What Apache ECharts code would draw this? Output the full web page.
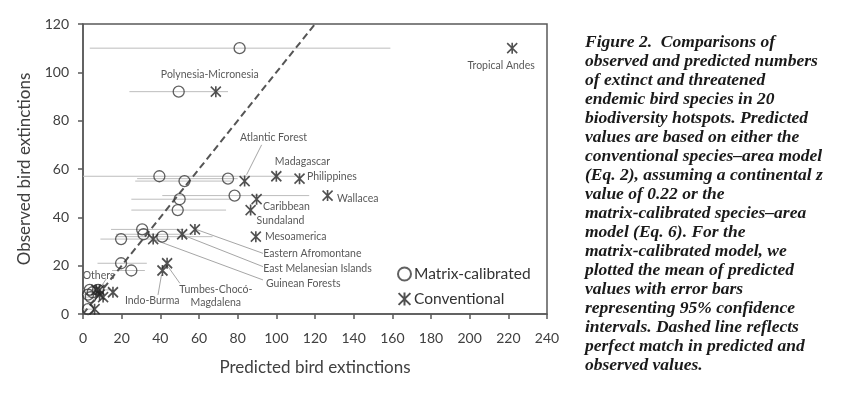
<!DOCTYPE html>
<html>
<head>
<meta charset="utf-8">
<script src="https://cdn.jsdelivr.net/npm/echarts@6/dist/echarts.min.js"></script>
<style>html,body{margin:0;padding:0;background:#fff;}#c{width:841px;height:395px;}</style>
</head>
<body>
<div id="c"></div>
<script>
// ---- data ----
const hotspots = ['Tropical Andes','Polynesia-Micronesia','Atlantic Forest','Madagascar','Philippines','Wallacea','Caribbean','Sundaland','Mesoamerica','Eastern Afromontane','East Melanesian Islands','Guinean Forests','Tumbes-Chocó-Magdalena','Indo-Burma','Other A','Other B','Other C','Other D','Other E','Other F'];
const observed     = [110, 92, 55, 57, 56, 49, 47.5, 43, 32, 35, 33, 31, 21, 18, 10, 10, 9, 8, 7, 2];
const matrixMean   = [81, 49.5, 52.5, 39.5, 75, 78.4, 50, 49, 41, 30.6, 31.3, 19.7, 19.7, 25, 3.5, 7.8, 5, 2.6, 4, 2.6];
const matrixLow    = [3.5, 24, 27, 0, 28, 41, 25, 25, 17, 14.5, 17, 9, 7.5, 15, 0, 2, 1, 0, 1, 0];
const matrixHigh   = [159, 75, 77, 110, 80, 117, 76, 74, 67, 52, 57, 45, 33, 32, 8, 14, 10, 6, 9, 5];
const conventional = [222, 68.7, 83.6, 100, 112, 126.5, 89.8, 86.7, 89.4, 57.9, 51.3, 36.3, 43.5, 41.1, 6.9, 8.5, 15.5, 8.6, 10.4, 6];
const perfectMatch = [0, 120];
const xTicks = [0, 240, 20];
const yTicks = [0, 120, 20];

// annotation labels (data coordinates) and leader lines
const labelTexts  = ['Polynesia-Micronesia','Tropical Andes','Atlantic Forest','Madagascar','Philippines','Wallacea','Caribbean','Sundaland','Mesoamerica','Eastern Afromontane','East Melanesian Islands','Guinean Forests','Tumbes-Chocó-\nMagdalena','Indo-Burma','Others'];
const labelX      = [65.6, 216.3, 98.5, 113.5, 115.8, 131.4, 93.1, 89.8, 94.1, 93.2, 93.2, 94.6, 68.7, 35.8, 8.1];
const labelY      = [99.0, 102.7, 72.9, 63.1, 56.8, 47.6, 44.3, 38.5, 32.0, 25.1, 18.6, 12.4, 7.2, 5.5, 15.9];
const labelAlign  = ['center','center','center','center','left','left','left','left','left','left','left','left','center','center','center'];
const leaders = [
  [92.4, 70.0, 84.6, 57.6],
  [57.8, 35.2, 93.1, 25.1],
  [51.6, 32.7, 93.1, 19.6],
  [37.0, 30.7, 93.1, 14.1],
  [44.0, 19.6, 50.1, 12.7],
  [40.6, 16.2, 38.8, 7.9],
  [12.0, 14.5, 9.5, 11.5]
];
const captionLines = [
  'Figure 2.  Comparisons of',
  'observed and predicted numbers',
  'of extinct and threatened',
  'endemic bird species in 20',
  'biodiversity hotspots. Predicted',
  'values are based on either the',
  'conventional species–area model',
  '(Eq. 2), assuming a continental z',
  'value of 0.22 or the',
  'matrix-calibrated species–area',
  'model (Eq. 6). For the',
  'matrix-calibrated model, we',
  'plotted the mean of predicted',
  'values with error bars',
  'representing 95% confidence',
  'intervals. Dashed line reflects',
  'perfect match in predicted and',
  'observed values.'
];

// ---- build ----
const matrixPts = matrixMean.map((m, i) => [m, observed[i]]);
const convPts = conventional.map((c, i) => [c, observed[i]]);
const errData = matrixLow.map((l, i) => [l, matrixHigh[i], observed[i]]);
const labelData = labelX.map((x, i) => [x, labelY[i], i]);
const AX = '#595959';
const FONT = 'Lato, "Open Sans", sans-serif';
const starPath = 'path://M0,0L10,10M10,0L0,10M5,-0.5L5,10.5';

const chart = echarts.init(document.getElementById('c'), null, {renderer: 'canvas'});
chart.setOption({
  animation: false,
  backgroundColor: '#fff',
  grid: {left: 83, right: 294, top: 24, bottom: 81, show: true, borderColor: AX, borderWidth: 1.5, backgroundColor: 'transparent'},
  xAxis: {
    type: 'value', min: xTicks[0], max: xTicks[1], interval: xTicks[2],
    name: 'Predicted bird extinctions', nameLocation: 'middle', nameGap: 45,
    nameTextStyle: {fontFamily: FONT, fontSize: 17, color: '#404040'},
    axisLine: {lineStyle: {color: AX, width: 1.5}},
    axisTick: {show: true, inside: false, length: 5, lineStyle: {color: AX, width: 1.5}},
    axisLabel: {fontFamily: FONT, fontSize: 14, color: '#404040', margin: 17},
    splitLine: {show: false}
  },
  yAxis: {
    type: 'value', min: yTicks[0], max: yTicks[1], interval: yTicks[2],
    name: 'Observed bird extinctions', nameLocation: 'middle', nameGap: 50,
    nameTextStyle: {fontFamily: FONT, fontSize: 17, color: '#404040'},
    axisLine: {lineStyle: {color: AX, width: 1.5}},
    axisTick: {show: true, inside: false, length: 5, lineStyle: {color: AX, width: 1.5}},
    axisLabel: {fontFamily: FONT, fontSize: 14, color: '#404040', margin: 14},
    splitLine: {show: false}
  },
  legend: {
    data: ['Matrix-calibrated', 'Conventional'],
    orient: 'vertical', left: 392, top: 261, itemGap: 9, itemWidth: 13, itemHeight: 13,
    textStyle: {fontFamily: FONT, fontSize: 15.5, color: '#333', padding: [0, 0, 0, -2]}
  },
  graphic: [{
    type: 'text', left: 585, top: 33,
    style: {
      text: captionLines.join('\n'),
      font: 'italic bold 17.5px "Liberation Serif", serif',
      fill: '#1a1a1a', lineHeight: 19
    }
  }],
  series: [
    {
      type: 'custom', name: 'err', silent: true, z: 1, clip: true,
      data: errData,
      renderItem: function (params, api) {
        const a = api.coord([api.value(0), api.value(2)]);
        const b = api.coord([api.value(1), api.value(2)]);
        return {type: 'line', shape: {x1: a[0], y1: a[1], x2: b[0], y2: b[1]}, style: {stroke: '#bdbdbd', lineWidth: 1}};
      }
    },
    {
      type: 'line', name: 'perfect', silent: true, z: 2,
      data: [[perfectMatch[0], perfectMatch[0]], [perfectMatch[1], perfectMatch[1]]],
      symbol: 'none', lineStyle: {color: '#555', width: 2, type: [7, 4]}
    },
    {
      type: 'custom', name: 'leaders', silent: true, z: 2,
      data: leaders,
      renderItem: function (params, api) {
        const a = api.coord([api.value(0), api.value(1)]);
        const b = api.coord([api.value(2), api.value(3)]);
        return {type: 'line', shape: {x1: a[0], y1: a[1], x2: b[0], y2: b[1]}, style: {stroke: '#a6a6a6', lineWidth: 1}};
      }
    },
    {
      type: 'custom', name: 'labels', silent: true, z: 3,
      data: labelData,
      renderItem: function (params, api) {
        const p = api.coord([api.value(0), api.value(1)]);
        const i = api.value(2);
        return {type: 'text', x: p[0], y: p[1], style: {
          text: labelTexts[i], fill: '#595959', font: '10.5px ' + FONT,
          align: labelAlign[i], verticalAlign: 'middle', lineHeight: 13
        }};
      }
    },
    {
      type: 'scatter', name: 'Matrix-calibrated', z: 4,
      data: matrixPts, symbol: 'circle', symbolSize: 11,
      itemStyle: {color: 'rgba(255,255,255,0)', borderColor: '#3a3a3a', borderWidth: 1.3}
    },
    {
      type: 'scatter', name: 'Conventional', z: 5,
      data: convPts, symbol: starPath, symbolSize: [10, 11],
      itemStyle: {color: 'rgba(255,255,255,0)', borderColor: '#262626', borderWidth: 1.7}
    }
  ]
});
</script>
</body>
</html>
